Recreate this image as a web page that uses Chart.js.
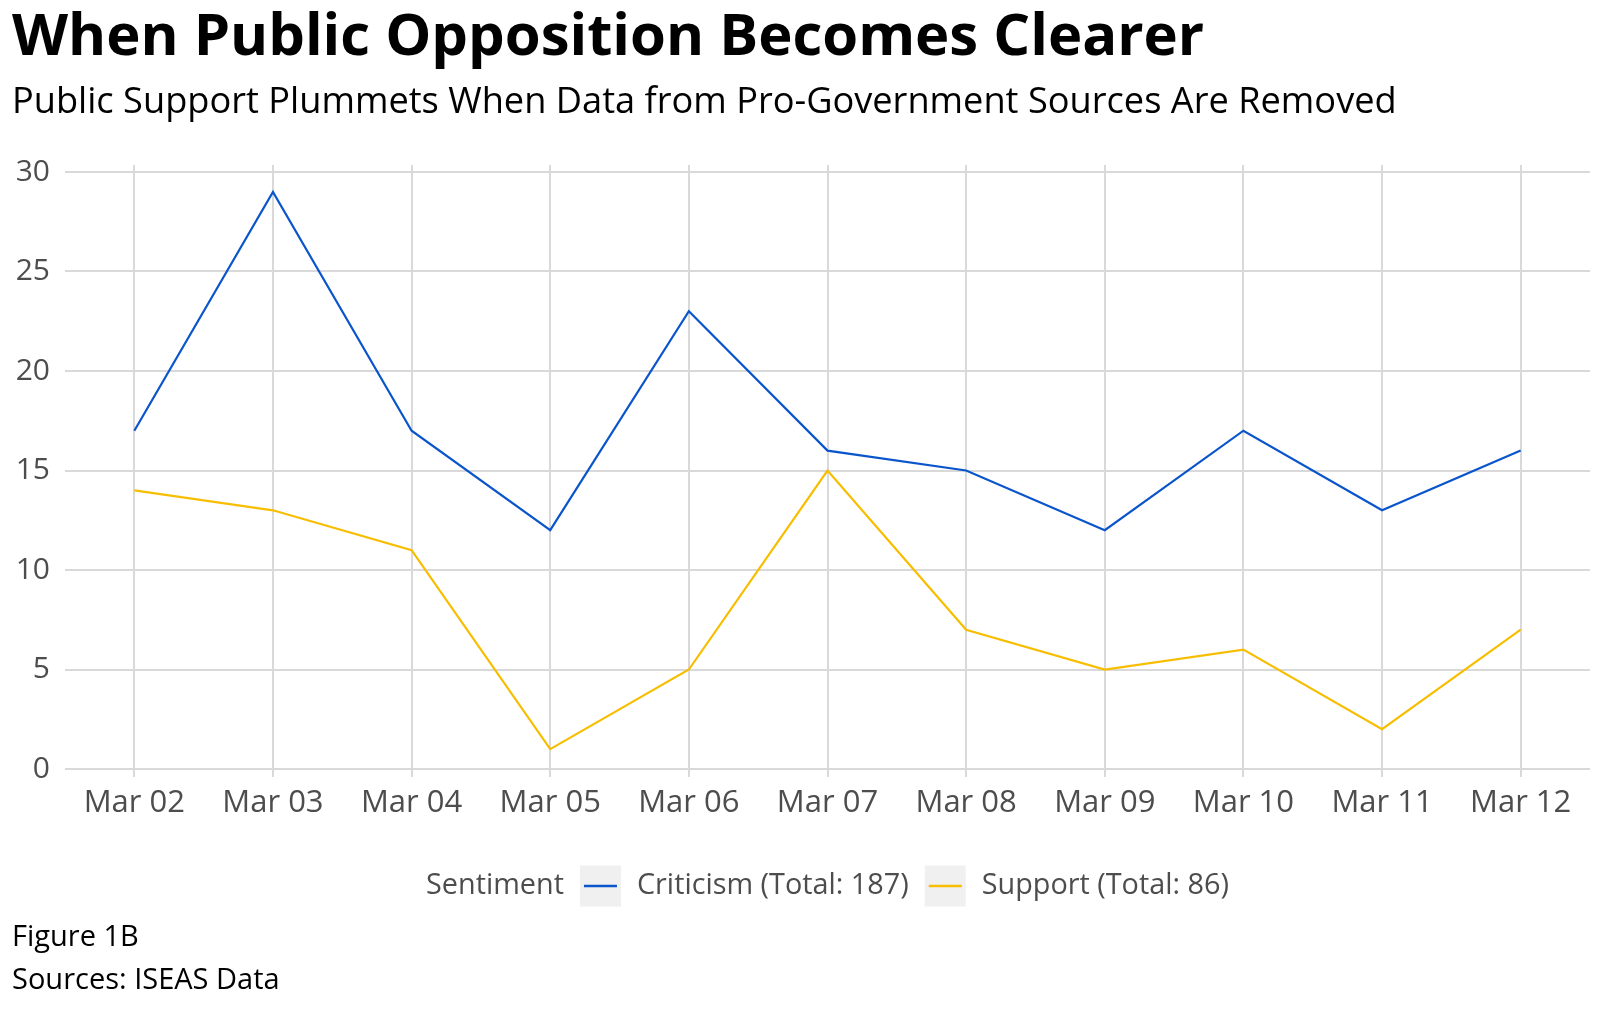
<!DOCTYPE html>
<html>
<head>
<meta charset="utf-8">
<script src="https://cdn.jsdelivr.net/npm/chart.js@4.4.1/dist/chart.umd.min.js"></script>
<style>
  html,body{margin:0;padding:0;background:#fff;}
  #wrap{position:relative;width:1600px;height:1013px;}
</style>
</head>
<body>
<div id="wrap"><canvas id="c" width="1600" height="1013"></canvas></div>
<script>
// data
const DAYS = ['Mar 02','Mar 03','Mar 04','Mar 05','Mar 06','Mar 07','Mar 08','Mar 09','Mar 10','Mar 11','Mar 12'];
const CRITICISM = [17, 29, 17, 12, 23, 16, 15, 12, 17, 13, 16];
const SUPPORT   = [14, 13, 11, 1, 5, 15, 7, 5, 6, 2, 7];
const Y_TICKS = [0, 5, 10, 15, 20, 25, 30];

const TITLE = 'When Public Opposition Becomes Clearer';
const SUBTITLE = 'Public Support Plummets When Data from Pro-Government Sources Are Removed';
const LEGEND_TITLE = 'Sentiment';
const CAPTION = ['Figure 1B', 'Sources: ISEAS Data'];

const FONT = '"Open Sans", "Noto Sans", sans-serif';
const BLUE = '#0A55CB';
const YELLOW = '#F7BE00';
const GRID = '#d9d9d9';
const TXT = '#4d4d4d';

const total = a => a.reduce((s, v) => s + v, 0);

// titles, legend and caption drawn straight on the canvas
const decor = {
  id: 'decor',
  afterDraw(chart){
    const ctx = chart.ctx, ca = chart.chartArea;
    ctx.save();
    ctx.textBaseline = 'alphabetic';
    ctx.textAlign = 'left';
    ctx.fillStyle = '#000';
    ctx.font = 'bold 58px ' + FONT;
    ctx.fillText(TITLE, 12, 55);
    ctx.font = '36.2px ' + FONT;
    ctx.fillText(SUBTITLE, 12, 113);

    // legend: title + keys, centred under the panel
    ctx.font = '28.8px ' + FONT;
    const items = chart.data.datasets.map(d => ({label: d.label, color: d.borderColor}));
    const gap = 16, key = 41;
    let w = ctx.measureText(LEGEND_TITLE).width;
    items.forEach(it => { w += gap + key + gap + ctx.measureText(it.label).width; });
    let x = (ca.left + ca.right) / 2 - w / 2;
    const cy = 886;
    ctx.textBaseline = 'middle';
    ctx.fillStyle = TXT;
    ctx.fillText(LEGEND_TITLE, x, cy);
    x += ctx.measureText(LEGEND_TITLE).width + gap;
    items.forEach(it => {
      ctx.fillStyle = '#f0f0f0';
      ctx.fillRect(x, cy - key / 2, key, key);
      ctx.strokeStyle = it.color;
      ctx.lineWidth = 2.5;
      ctx.beginPath();
      ctx.moveTo(x + 4, cy); ctx.lineTo(x + key - 4, cy);
      ctx.stroke();
      x += key + gap;
      ctx.fillStyle = TXT;
      ctx.fillText(it.label, x, cy);
      x += ctx.measureText(it.label).width + gap;
    });

    ctx.textBaseline = 'alphabetic';
    ctx.fillStyle = '#000';
    ctx.font = '29px ' + FONT;
    ctx.fillText(CAPTION[0], 12, 946);
    ctx.fillText(CAPTION[1], 12, 989);
    ctx.restore();
  }
};

function draw(){
  new Chart(document.getElementById('c'), {
    type: 'line',
    data: {
      labels: DAYS,
      datasets: [
        {label: `Criticism (Total: ${total(CRITICISM)})`, data: CRITICISM, borderColor: BLUE, borderWidth: 2.2, pointRadius: 0, tension: 0, fill: false},
        {label: `Support (Total: ${total(SUPPORT)})`, data: SUPPORT, borderColor: YELLOW, borderWidth: 2.2, pointRadius: 0, tension: 0, fill: false}
      ]
    },
    options: {
      responsive: false, animation: false,
      layout: {padding: {top: 165, right: 10, bottom: 186, left: 0}},
      plugins: {legend: {display: false}, tooltip: {enabled: false}},
      scales: {
        x: {
          type: 'category', offset: true,
          grid: {color: GRID, lineWidth: 2, drawTicks: false, offset: false},
          border: {display: false},
          ticks: {color: TXT, font: {family: FONT, size: 31}, padding: 8, maxRotation: 0, autoSkip: false},
          afterFit(s){ s.height = 50; }
        },
        y: {
          min: -0.4, max: 30.35,
          grid: {color: GRID, lineWidth: 2, drawTicks: false},
          border: {display: false},
          ticks: {color: TXT, font: {family: FONT, size: 30}, padding: 15},
          afterBuildTicks(s){ s.ticks = Y_TICKS.map(v => ({value: v})); },
          afterFit(s){ s.width = 65; }
        }
      }
    },
    plugins: [decor]
  });
}

if (document.fonts && document.fonts.load) {
  Promise.all([document.fonts.load('bold 58px "Open Sans"'), document.fonts.load('30px "Open Sans"')]).then(draw, draw);
} else draw();
</script>
</body>
</html>
